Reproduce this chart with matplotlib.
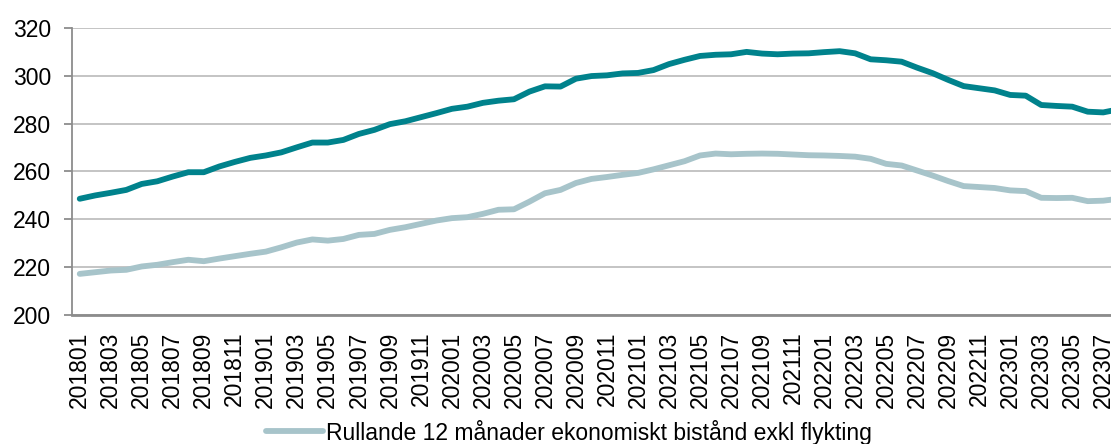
import matplotlib
matplotlib.use("Agg")
import matplotlib.pyplot as plt
import numpy as np

# months 201801 .. 202308 (last one is cut by the right edge)
months = [f"{y}{m:02d}" for y in range(2018, 2024) for m in range(1, 13)][:68]

totalt = [248.6, 250.0, 251.1, 252.3, 254.8, 255.9, 257.9, 259.7, 259.7, 262.1,
          264.0, 265.7, 266.7, 268.0, 270.1, 272.1, 272.1, 273.2, 275.7, 277.4,
          279.8, 281.0, 282.7, 284.4, 286.2, 287.1, 288.7, 289.6, 290.2, 293.4,
          295.6, 295.5, 298.8, 299.9, 300.2, 301.0, 301.2, 302.4, 304.9, 306.7,
          308.3, 308.8, 309.0, 310.0, 309.3, 309.0, 309.3, 309.4, 309.9, 310.3,
          309.4, 306.9, 306.5, 305.9, 303.4, 301.1, 298.3, 295.7, 294.8, 293.9,
          292.0, 291.7, 287.8, 287.4, 287.1, 285.0, 284.7, 286.0]

exkl_flykting = [217.2, 217.9, 218.6, 218.9, 220.3, 221.0, 222.1, 223.1, 222.5, 223.6,
                 224.6, 225.6, 226.5, 228.3, 230.3, 231.6, 231.1, 231.8, 233.5, 233.9,
                 235.6, 236.7, 238.1, 239.5, 240.5, 240.9, 242.3, 244.0, 244.2, 247.4,
                 250.9, 252.3, 255.2, 256.9, 257.7, 258.6, 259.4, 260.9, 262.6, 264.3,
                 266.7, 267.5, 267.2, 267.4, 267.5, 267.4, 267.1, 266.8, 266.7, 266.5,
                 266.2, 265.3, 263.2, 262.5, 260.4, 258.3, 256.0, 253.9, 253.5, 253.1,
                 252.1, 251.8, 249.0, 248.9, 249.0, 247.6, 247.8, 248.6]

plt.rcParams['font.family'] = ['Liberation Sans', 'DejaVu Sans']

fig = plt.figure(figsize=(11.11, 4.44), dpi=100)
ax = fig.add_axes([0.0648, 0.2905, 0.9352, 0.6465])

x = np.arange(len(months))
ax.plot(x, exkl_flykting, color='#A7C4CA', lw=4.2, solid_capstyle='round',
        label='Rullande 12 månader ekonomiskt bistånd exkl flykting', zorder=3)
ax.plot(x, totalt, color='#00828C', lw=4.2, solid_capstyle='round',
        label='_nolegend_', zorder=4)

ax.set_ylim(200, 320)
ax.set_yticks(range(200, 321, 20))
ax.set_xlim(-0.5, 66.5)
ax.set_xticks(x[:67:2])
ax.set_xticklabels(months[:67:2], rotation=90)

ax.grid(axis='y', color='#BFBFBF', lw=1.3)
ax.set_axisbelow(True)
for s in ['top', 'right']:
    ax.spines[s].set_visible(False)
ax.spines['left'].set_color('#8C8C8C')
ax.spines['left'].set_linewidth(1.3)
ax.spines['bottom'].set_color('#8C8C8C')
ax.spines['bottom'].set_linewidth(2)
ax.tick_params(axis='y', length=5.5, width=1.3, color='#8C8C8C', labelsize=16.5, pad=9.5)
ax.tick_params(axis='x', length=0, labelsize=16.5, pad=12)

fig.legend(loc='center', bbox_to_anchor=(0.512, 0.027), frameon=False,
           fontsize=16.5, handlelength=2.5, handletextpad=0.15)

fig.savefig('out.png', dpi=100)
